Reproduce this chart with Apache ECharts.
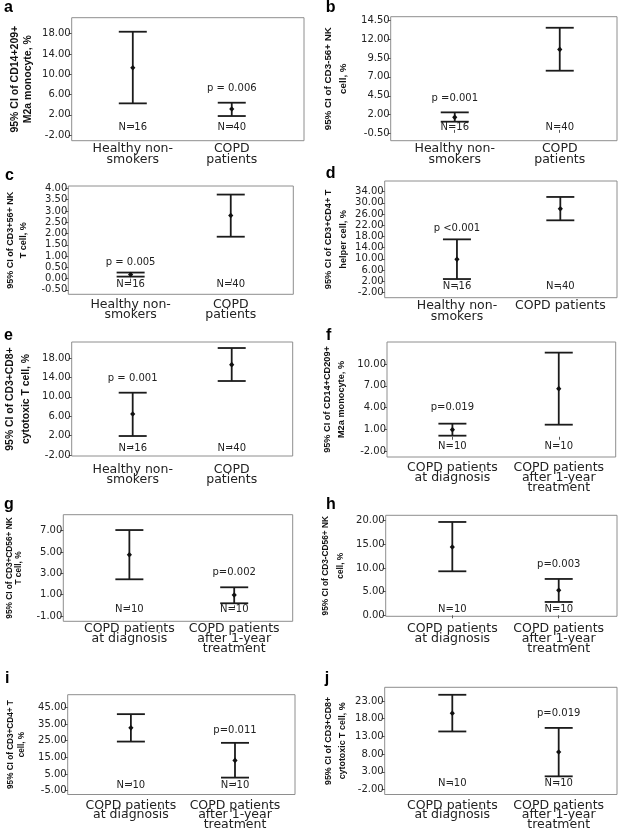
<!DOCTYPE html>
<html><head><meta charset="utf-8">
<script src="https://cdn.jsdelivr.net/npm/echarts@6/dist/echarts.min.js"></script>
<style>html,body{margin:0;padding:0;background:#fff}#c{width:626px;height:831px}</style>
</head><body><div id="c"></div>
<script>
// ---------------- DATA ----------------
const panelLetters = ['a','b','c','d','e','f','g','h','i','j'];
const yTitles = [
  '95% CI of CD14+209+\nM2a monocyte, %',
  '95% CI of CD3-56+ NK\ncell, %',
  '95% CI of CD3+56+ NK\nT cell, %',
  '95% CI of CD3+CD4+ T\nhelper cell, %',
  '95% CI of CD3+CD8+\ncytotoxic T cell, %',
  '95% CI of CD14+CD209+\nM2a monocyte, %',
  '95% CI of CD3+CD56+ NK\nT cell, %',
  '95% CI of CD3-CD56+ NK\ncell, %',
  '95% CI of CD3+CD4+ T\ncell, %',
  '95% CI of CD3+CD8+\ncytotoxic T cell, %'
];
const catsHealthy = ['Healthy non-\nsmokers', 'COPD\npatients'];
const catsHealthyD = ['Healthy non-\nsmokers', 'COPD patients'];
const catsTreatment = ['COPD patients\nat diagnosis', 'COPD patients\nafter 1-year\ntreatment'];
const panelCats = [catsHealthy, catsHealthy, catsHealthy, catsHealthyD, catsHealthy,
  catsTreatment, catsTreatment, catsTreatment, catsTreatment, catsTreatment];
// 95% CI lower bound, mean, upper bound: [group1, group2] per panel
const ciLower = [[4.25,1.75],[1.08,7.81],[0.09,1.86],[2.77,23.75],[1.92,13.26],
  [0.15,1.66],[2.44,0.19],[9.3,2.82],[24.5,2.85],[14.4,1.75]];
const ciMean = [[11.29,3.13],[1.65,10.62],[0.18,2.80],[9.8,27.9],[6.46,16.63],
  [0.98,6.61],[4.75,0.97],[14.44,5.28],[32.74,13.2],[19.52,8.62]];
const ciUpper = [[18.39,4.38],[2.31,13.48],[0.27,3.73],[16.95,32.1],[10.85,20.06],
  [1.8,11.56],[7.06,1.69],[19.72,7.68],[40.98,23.73],[24.74,15.4]];
const pValues = ['p = 0.006','p =0.001','p = 0.005','p <0.001','p = 0.001',
  'p=0.019','p=0.002','p=0.003','p=0.011','p=0.019'];
const pGroup = [1,0,0,0,0,0,1,1,1,1];
const nLabels = [['N=16','N=40'],['N=16','N=40'],['N=16','N=40'],['N=16','N=40'],['N=16','N=40'],
  ['N=10','N=10'],['N=10','N=10'],['N=10','N=10'],['N=10','N=10'],['N=10','N=10']];
const yTicks = [
  [-2,2,6,10,14,18],
  [-0.5,2,4.5,7,9.5,12,14.5],
  [-0.5,0,0.5,1,1.5,2,2.5,3,3.5,4],
  [-2,2,6,10,14,18,22,26,30,34],
  [-2,2,6,10,14,18],
  [-2,1,4,7,10],
  [-1,1,3,5,7],
  [0,5,10,15,20],
  [-5,5,15,25,35,45],
  [-2,3,8,13,18,23]
];

// ---------------- LAYOUT ----------------
const gridBox = [[71.7,17.7,232.3,123],[390.7,16.7,226.3,124],[68.3,186,225,108.3],[384.7,181,232.3,116.7],
  [71.7,342,221,114],[387,342,228.7,115],[63.3,514.7,229.4,106.6],[385.7,515.3,231.3,101],
  [67.7,694.7,227.3,104.3],[384.7,687.3,232.3,110]];
const yRange = [[-3.12,21.16],[-1.43,14.94],[-0.695,4.11],[-3.9,37.8],[-2.2,21.3],
  [-2.78,13.02],[-1.5,8.5],[-0.21,21.13],[-7.3,52.66],[-3.37,26.85]];
const catFrac = [[0.263,0.689],[0.283,0.747],[0.277,0.722],[0.311,0.756],[0.276,0.724],
  [0.286,0.751],[0.288,0.745],[0.288,0.748],[0.278,0.736],[0.291,0.749]];
const pOff = [14,13.7,10,11.3,14.7,16.3,15.3,14.3,12,14.3];
const nOff = [13.4,13.4,10,11.7,7.3,10.7,11.7,7.3,9.3,10.7];
const titleSize = [10.5,9.8,9,9.2,10.4,9.2,8.3,8.3,8.2,8.9];
const titleLH = [13,15,13.3,15,16,14,9,15,10.5,14];
const nameGaps = [36.8,40.1,37.9,33.8,37.2,38.6,39.7,37.7,40.9,35.5];
const xLabMargin = [3.2,3.2,4.9,3.2,8.5,6.3,3,8,6,6];
const xLabLH = [10.3,10.3,10.3,10.3,10.3,9.6,9.6,9.6,9.6,9.6];
const letterPos = [[4,12.7],[325.7,12.7],[5,181],[325.7,178.7],[4,341],[326,341],[4,510],[326,510],[5,684],[324.7,684]];

const TXT = '#222';
const LINE = '#1b1b1b';
const tickFont = '"DejaVu Sans"';

function makeRender(pi){
  return function(params, api){
    const x = api.value(0), lo = api.value(1), m = api.value(2), hi = api.value(3);
    const gi = params.dataIndex;
    const pT = api.coord([x, hi]), pB = api.coord([x, lo]), pM = api.coord([x, m]);
    const cs = params.coordSys;
    const hw = 14;
    const st = {stroke: LINE, lineWidth: 1.8};
    const children = [
      {type:'line', shape:{x1:pT[0], y1:pT[1], x2:pB[0], y2:pB[1]}, style:st},
      {type:'line', shape:{x1:pT[0]-hw, y1:pT[1], x2:pT[0]+hw, y2:pT[1]}, style:st},
      {type:'line', shape:{x1:pB[0]-hw, y1:pB[1], x2:pB[0]+hw, y2:pB[1]}, style:st},
      {type:'polygon', shape:{points:[[pM[0],pM[1]-2.8],[pM[0]+2.6,pM[1]],[pM[0],pM[1]+2.8],[pM[0]-2.6,pM[1]]]}, style:{fill:'#111'}},
      {type:'text', style:{x:pM[0], y:cs.y+cs.height-nOff[pi], text:nLabels[pi][gi],
        font:'10px "DejaVu Sans"', fill:TXT, align:'center', verticalAlign:'middle'}}
    ];
    if (pGroup[pi] === gi) {
      children.push({type:'text', style:{x:pT[0], y:pT[1]-pOff[pi], text:pValues[pi],
        font:'10px "DejaVu Sans"', fill:TXT, align:'center', verticalAlign:'middle'}});
    }
    return {type:'group', children};
  };
}

const grids = [], xAxes = [], yAxes = [], series = [];
for (let i = 0; i < 10; i++) {
  const [l,t,w,h] = gridBox[i];
  grids.push({left:l, top:t, width:w, height:h, show:true, borderColor:'#8e8e8e', borderWidth:1, backgroundColor:'#fff', containLabel:false});
  const [f1,f2] = catFrac[i];
  const xmin = 1 - f1/(f2-f1), xmax = xmin + 1/(f2-f1);
  const cats = panelCats[i];
  xAxes.push({gridIndex:i, type:'value', min:xmin, max:xmax,
    axisLine:{show:false}, splitLine:{show:false},
    axisTick:{show:true, customValues:[1,2], length:3, lineStyle:{color:'#555', width:1}},
    axisLabel:{customValues:[1,2], formatter:(v)=>cats[Math.round(v)-1], margin:xLabMargin[i],
      fontFamily:tickFont, fontSize:12.5, lineHeight:xLabLH[i], color:TXT, align:'center'}});
  yAxes.push({gridIndex:i, type:'value', min:yRange[i][0], max:yRange[i][1],
    name:yTitles[i], nameLocation:'middle', nameGap:nameGaps[i], nameRotate:90,
    nameTextStyle:{fontFamily:'"Liberation Sans"', fontSize:titleSize[i], fontWeight:'bold', lineHeight:titleLH[i], color:'#111', align:'center'},
    axisLine:{show:false}, splitLine:{show:false},
    axisTick:{show:true, customValues:yTicks[i], length:3, lineStyle:{color:'#555', width:1}},
    axisLabel:{customValues:yTicks[i], formatter:(v)=>Number(v).toFixed(2), margin:1,
      fontFamily:tickFont, fontSize:10, color:TXT}});
  series.push({type:'custom', xAxisIndex:i, yAxisIndex:i, renderItem:makeRender(i), clip:false,
    data:[[1, ciLower[i][0], ciMean[i][0], ciUpper[i][0]], [2, ciLower[i][1], ciMean[i][1], ciUpper[i][1]]]});
}

const graphic = panelLetters.map((t,i)=>({type:'text', x:letterPos[i][0], y:letterPos[i][1]-5.5,
  style:{text:t, font:'bold 16px "Liberation Sans"', fill:'#000', align:'left', verticalAlign:'middle'}}));

const chart = echarts.init(document.getElementById('c'), null, {renderer:'canvas'});
chart.setOption({animation:false, backgroundColor:'#fff', grid:grids, xAxis:xAxes, yAxis:yAxes, series, graphic});
</script></body></html>
